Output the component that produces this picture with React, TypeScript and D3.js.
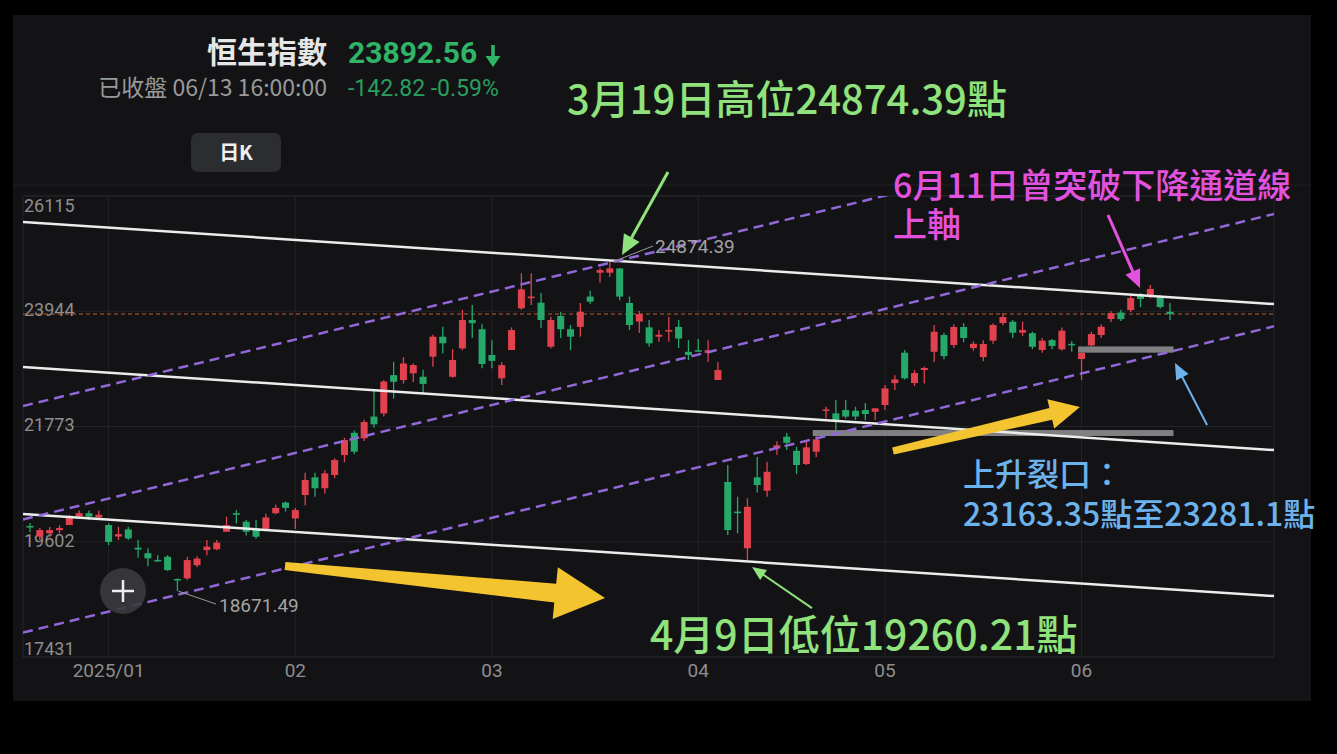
import * as d3 from "d3";

// daily candles, 2024/12/18 - 2025/06/13
const dates = [
  "12/18", "12/19", "12/20", "12/23", "12/24", "12/27", "12/30", "12/31",
  "01/02", "01/03", "01/06", "01/07", "01/08", "01/09", "01/10", "01/13", "01/14", "01/15", "01/16", "01/17",
  "01/20", "01/21", "01/22", "01/23", "01/24", "01/27", "01/28",
  "02/03", "02/04", "02/05", "02/06", "02/07", "02/10", "02/11", "02/12", "02/13", "02/14",
  "02/17", "02/18", "02/19", "02/20", "02/21", "02/24", "02/25", "02/26", "02/27", "02/28",
  "03/03", "03/04", "03/05", "03/06", "03/07", "03/10", "03/11", "03/12", "03/13", "03/14",
  "03/17", "03/18", "03/19", "03/20", "03/21", "03/24", "03/25", "03/26", "03/27", "03/28", "03/31",
  "04/01", "04/02", "04/03", "04/07", "04/08", "04/09", "04/10", "04/11", "04/14", "04/15", "04/16", "04/17",
  "04/22", "04/23", "04/24", "04/25", "04/28", "04/29", "04/30",
  "05/02", "05/06", "05/07", "05/08", "05/09", "05/12", "05/13", "05/14", "05/15", "05/16",
  "05/19", "05/20", "05/21", "05/22", "05/23", "05/26", "05/27", "05/28", "05/29", "05/30",
  "06/02", "06/03", "06/04", "06/05", "06/06", "06/09", "06/10", "06/11", "06/12", "06/13",
];

const opens = [
  19900, 19700, 19760, 19820, 19917, 20080, 20140, 20060,
  19917, 19700, 19835, 19490, 19385, 19260, 19320, 18900, 18912, 19160, 19445, 19460,
  19790, 20140, 19980, 19855, 19822, 20140, 20340,
  20040, 20482, 20815, 20610, 20860, 21235, 21655, 21550, 21960, 22020,
  22740, 22648, 22775, 22710, 23088, 23465, 22710, 23245, 23779, 23605,
  23120, 22680, 23214, 23999, 24190, 24105, 23275, 23855, 23605, 23650,
  24220, 24670, 24670, 24750, 24100, 23750, 23640, 23465, 23575, 23650, 23180,
  23210, 23160, 22648, 20728, 20170, 19480, 20815, 20563, 21360, 21580, 21315, 21066,
  21298, 22070, 22020, 22083, 22070, 22083, 22050,
  22177, 22590, 23163, 22592, 22837, 23181, 23496, 23308, 23647, 23250,
  23082, 23389, 23722, 23747, 23540, 23530, 23214, 23400, 23227, 23330,
  23044, 23300, 23496, 23798, 23920, 23967, 24268, 24212, 24231, 23935,
];

const highs = [
  19955, 19860, 19880, 19915, 20105, 20190, 20190, 20190,
  19950, 19885, 19885, 19640, 19480, 19350, 19350, 18910, 19320, 19330, 19634, 19634,
  20073, 20199, 20010, 20010, 20130, 20300, 20360,
  20240, 20900, 20900, 20950, 21170, 21560, 21700, 21900, 22450, 22650,
  22990, 23080, 22960, 22840, 23500, 23650, 23230, 23970, 24060, 23700,
  23400, 22990, 23640, 24660, 24660, 24290, 23840, 23930, 23685, 24100,
  24330, 24760, 24874.39, 24760, 24220, 23950, 23780, 23590, 23840, 23780, 23400,
  23420, 23400, 22990, 21050, 20450, 20420, 21200, 21110, 21490, 21650, 21390, 21518,
  21594, 22145, 22270, 22270, 22145, 22215, 22115,
  22555, 22740, 23214, 22837, 22900, 23685, 23540, 23700, 23720, 23380,
  23400, 23720, 23910, 23780, 23750, 23560, 23440, 23420, 23640, 23380,
  23163.35, 23560, 23700, 23950, 23970, 24230, 24290, 24440, 24250, 24100,
];

const lows = [
  19780, 19634, 19690, 19760, 19917, 20050, 20010, 20030,
  19540, 19634, 19634, 19300, 19140, 19225, 19050, 18671.49, 18880, 19120, 19350, 19440,
  19790, 19950, 19720, 19660, 19822, 20120, 20170,
  19840, 20290, 20450, 20510, 20800, 21100, 21250, 21500, 21750, 21960,
  22300, 22580, 22610, 22390, 22900, 23150, 22690, 23210, 23440, 22870,
  22870, 22555, 23214, 23970, 24060, 23630, 23240, 23440, 23214, 23465,
  24080, 24480, 24590, 24150, 23590, 23535, 23280, 23370, 23370, 23250, 23025,
  23180, 22990, 22648, 19728, 19760, 19260.21, 20530, 20450, 21240, 21330, 20875, 21047,
  21200, 21925, 21707, 21925, 21895, 21895, 21895,
  22083, 22460, 22660, 22535, 22585, 22990, 23040, 23250, 23360, 23200,
  23000, 23330, 23680, 23440, 23480, 23230, 23160, 23230, 23200, 23180,
  22650, 23281.1, 23440, 23740, 23760, 23930, 24020, 24190, 23990, 23780,
];

const closes = [
  19870, 19822, 19822, 19860, 20073, 20140, 20075, 20110,
  19600, 19745, 19665, 19455, 19290, 19240, 19069, 18880, 19257, 19285, 19510, 19585,
  19917, 20110, 19790, 19696, 20060, 20240, 20240,
  20199, 20765, 20610, 20890, 21141, 21518, 21298, 21857, 21814, 22620,
  22615, 22960, 22930, 22575, 23465, 23340, 23025, 23779, 23720, 22950,
  23010, 22930, 23590, 24356, 24220, 23779, 23779, 23605, 23465, 23935,
  24125, 24720, 24750, 24220, 23685, 23890, 23340, 23500, 23590, 23430, 23120,
  23195, 23210, 22837, 19822, 20140, 20260, 20670, 20920, 21420, 21465, 21047, 21380,
  21530, 22095, 21895, 21960, 21960, 22008, 22115,
  22490, 22660, 22680, 22780, 22875, 23558, 23100, 23647, 23440, 23330,
  23327, 23685, 23835, 23540, 23590, 23275, 23390, 23290, 23578, 23310,
  23157, 23515, 23653, 23910, 23795, 24193, 24175, 24363, 24024, 23892.56,
];

const yTicks = [26115, 23944, 21773, 19602, 17431];
const monthStarts = ["01/02", "02/03", "03/03", "04/01", "05/02", "06/02"];
const monthLabels = ["2025/01", "02", "03", "04", "05", "06"];

// channel lines: value at left edge and right edge of the chart
const channelSpan = [-0.71, 126.58];
const whiteLines = [
  [25625, 24080],
  [22893, 21330],
  [20124, 18579],
];
const purpleLines = [
  [22159, 27909],
  [20022, 25776],
  [17891, 23660],
];

// gaps (from candle, to candle, low, high)
const gaps = [
  { from: "04/22", to: "06/13", low: 21594, high: 21706 },
  { from: "06/02", to: "06/13", low: 23163.35, high: 23281.1 },
];

// annotation arrows, in (candle index, value)
const yellowArrows = [
  { i0: 25.95, v0: 19144, i1: 58.51, v1: 18541, w0: 8, w1: 19, hl: 50, hh: 26 },
  { i0: 87.81, v0: 21311, i1: 106.84, v1: 22140, w0: 7, w1: 12, hl: 30, hh: 15 },
];
const thinArrows = [
  { i0: 64.92, v0: 26567, i1: 60.24, v1: 25003, color: "#8fe27c", w: 3, hl: 20, hh: 9 },
  { i0: 109.69, v0: 25757, i1: 112.95, v1: 24382, color: "#e352df", w: 3, hl: 18, hh: 8 },
  { i0: 119.77, v0: 21801, i1: 116.51, v1: 22969, color: "#6cb2ec", w: 2, hl: 16, hh: 7 },
  { i0: 79.57, v0: 18353, i1: 73.47, v1: 19125, color: "#8fe27c", w: 2, hl: 14, hh: 6 },
];

const UP = "#e2414e";
const DOWN = "#25a86a";
const GREEN_TXT = "#8fe27c";
const HDR_GREEN = "#2fb468";
const CJK = "'Noto Sans CJK TC', 'Noto Sans', sans-serif";
const NUM = "Roboto, 'Noto Sans', sans-serif";

const plot = { left: 23, right: 1274, top: 196, bottom: 657 };

function thickArrow(p0: number[], p1: number[], w0: number, w1: number, hl: number, hh: number) {
  const dx = p1[0] - p0[0], dy = p1[1] - p0[1];
  const L = Math.hypot(dx, dy);
  const ux = dx / L, uy = dy / L, nx = -uy, ny = ux;
  const bx = p1[0] - ux * hl, by = p1[1] - uy * hl;
  const pts = [
    [p0[0] + (nx * w0) / 2, p0[1] + (ny * w0) / 2],
    [bx + (nx * w1) / 2, by + (ny * w1) / 2],
    [bx + nx * hh, by + ny * hh],
    [p1[0], p1[1]],
    [bx - nx * hh, by - ny * hh],
    [bx - (nx * w1) / 2, by - (ny * w1) / 2],
    [p0[0] - (nx * w0) / 2, p0[1] - (ny * w0) / 2],
  ];
  return pts.map((p) => p.join(",")).join(" ");
}

export default function App() {
  const n = dates.length;
  const x = d3.scaleLinear().domain([0, n - 1]).range([30, 1170]);
  const y = d3.scaleLinear().domain([yTicks[yTicks.length - 1], yTicks[0]]).range([plot.bottom, plot.top]);
  const cw = 7;

  const hiIdx = d3.maxIndex(highs);
  const loIdx = d3.minIndex(lows);
  const last = closes[n - 1];

  return (
    <svg width={1337} height={754} style={{ position: "absolute", left: 0, top: 0, display: "block" }}>
      <defs>
        <clipPath id="plotClip">
          <rect x={plot.left} y={plot.top} width={plot.right - plot.left} height={plot.bottom - plot.top} />
        </clipPath>
      </defs>
      <rect width={1337} height={754} fill="#000" />
      <rect x={13} y={15} width={1298} height={686} fill="#131316" />

      {/* header */}
      <text x={327} y={63} textAnchor="end" fontFamily={CJK} fontWeight={700} fontSize={30} fill="#e6e6e6">恒生指數</text>
      <text x={348} y={63} fontFamily={NUM} fontWeight={700} fontSize={30} fill={HDR_GREEN}>23892.56</text>
      <line x1={493} y1={45} x2={493} y2={59} stroke={HDR_GREEN} strokeWidth={3.5} />
      <polygon points="485.5,56 500.5,56 493,67" fill={HDR_GREEN} />
      <text x={327} y={96} textAnchor="end" fontFamily={CJK} fontSize={23} fill="#9a9a9a">已收盤 06/13 16:00:00</text>
      <text x={348} y={96} fontFamily={NUM} fontSize={23} fill="#2a9e5e">-142.82 -0.59%</text>
      <rect x={191} y={133} width={90} height={39} rx={7} fill="#2c2d31" />
      <text x={236} y={160} textAnchor="middle" fontFamily={CJK} fontWeight={700} fontSize={20} fill="#f0f0f0">日K</text>

      {/* frame & grid */}
      <line x1={13} x2={1311} y1={185} y2={185} stroke="#202124" strokeWidth={1} />
      <rect x={plot.left} y={plot.top} width={plot.right - plot.left} height={plot.bottom - plot.top} fill="none" stroke="#25262a" />
      {yTicks.map((t) => (
        <line key={t} x1={plot.left} x2={plot.right} y1={y(t)} y2={y(t)} stroke="#222327" />
      ))}
      {monthStarts.map((d) => (
        <line key={d} x1={x(dates.indexOf(d))} x2={x(dates.indexOf(d))} y1={plot.top} y2={plot.bottom} stroke="#222327" />
      ))}
      {yTicks.map((t) => (
        <text key={t} x={24} y={Math.min(Math.max(y(t), 207), 650)} dominantBaseline="middle" fontFamily={NUM} fontSize={18} fill="#8e8e8e">
          {t}
        </text>
      ))}
      {monthStarts.map((d, k) => (
        <text key={d} x={x(dates.indexOf(d))} y={677} textAnchor="middle" fontFamily={NUM} fontSize={19} fill="#8e8e8e">
          {monthLabels[k]}
        </text>
      ))}

      {/* last close line */}
      <line x1={plot.left} x2={plot.right} y1={y(last)} y2={y(last)} stroke="#b8662c" strokeWidth={1.2} strokeDasharray="4 3" />

      {/* candles */}
      {dates.map((d, i) => {
        const up = closes[i] >= opens[i];
        const c = up ? UP : DOWN;
        const top = y(Math.max(opens[i], closes[i]));
        const bot = y(Math.min(opens[i], closes[i]));
        return (
          <g key={d}>
            <line x1={x(i)} x2={x(i)} y1={y(highs[i])} y2={y(lows[i])} stroke={c} strokeWidth={1.3} />
            <rect x={x(i) - cw / 2} y={top} width={cw} height={Math.max(bot - top, 1.5)} fill={c} />
          </g>
        );
      })}

      {/* gap bars */}
      {gaps.map((g) => (
        <rect
          key={g.from}
          x={x(dates.indexOf(g.from)) - cw / 2}
          y={y(g.high)}
          width={x(dates.indexOf(g.to)) - x(dates.indexOf(g.from)) + cw}
          height={y(g.low) - y(g.high)}
          fill="#808082"
        />
      ))}

      {/* channels */}
      <g clipPath="url(#plotClip)">
        {whiteLines.map((l, k) => (
          <line key={k} x1={x(channelSpan[0])} y1={y(l[0])} x2={x(channelSpan[1])} y2={y(l[1])} stroke="#ececec" strokeWidth={2.5} />
        ))}
        {purpleLines.map((l, k) => (
          <line key={k} x1={x(channelSpan[0])} y1={y(l[0])} x2={x(channelSpan[1])} y2={y(l[1])} stroke="#9268d8" strokeWidth={2.5} strokeDasharray="10 6" />
        ))}
      </g>

      {/* max / min labels */}
      <line x1={x(hiIdx) + 3} y1={y(highs[hiIdx])} x2={653} y2={246} stroke="#9a9a9a" strokeWidth={1} />
      <text x={655} y={248} dominantBaseline="middle" fontFamily={NUM} fontSize={19} fill="#a3a3a3">{highs[hiIdx]}</text>
      <line x1={x(loIdx) + 1} y1={y(lows[loIdx])} x2={216} y2={604} stroke="#9a9a9a" strokeWidth={1} />
      <text x={219} y={607} dominantBaseline="middle" fontFamily={NUM} fontSize={19} fill="#a3a3a3">{lows[loIdx]}</text>

      {/* yellow arrows */}
      {yellowArrows.map((a, k) => (
        <polygon key={k} points={thickArrow([x(a.i0), y(a.v0)], [x(a.i1), y(a.v1)], a.w0, a.w1, a.hl, a.hh)} fill="#f4c430" />
      ))}

      {/* thin arrows */}
      {thinArrows.map((a, k) => {
        const p0 = [x(a.i0), y(a.v0)];
        const p1 = [x(a.i1), y(a.v1)];
        const L = Math.hypot(p1[0] - p0[0], p1[1] - p0[1]);
        const ux = (p1[0] - p0[0]) / L, uy = (p1[1] - p0[1]) / L;
        const bx = p1[0] - ux * a.hl, by = p1[1] - uy * a.hl;
        return (
          <g key={k}>
            <line x1={p0[0]} y1={p0[1]} x2={bx + ux * 2} y2={by + uy * 2} stroke={a.color} strokeWidth={a.w} />
            <polygon
              points={`${p1[0]},${p1[1]} ${bx - uy * a.hh},${by + ux * a.hh} ${bx + uy * a.hh},${by - ux * a.hh}`}
              fill={a.color}
            />
          </g>
        );
      })}

      {/* + button */}
      <circle cx={123} cy={591} r={23} fill="#3a3a3e" opacity={0.9} />
      <line x1={112} x2={134} y1={591} y2={591} stroke="#eee" strokeWidth={2.5} />
      <line x1={123} x2={123} y1={580} y2={602} stroke="#eee" strokeWidth={2.5} />

      {/* annotation texts */}
      <text x={567} y={114} fontFamily={CJK} fontWeight={500} fontSize={40} fill={GREEN_TXT}>3月19日高位24874.39點</text>
      <text x={893} y={198} fontFamily={CJK} fontWeight={500} fontSize={34} fill="#e352df">6月11日曾突破下降通道線</text>
      <text x={893} y={237} fontFamily={CJK} fontWeight={500} fontSize={34} fill="#e352df">上軸</text>
      <text x={963} y={486} fontFamily={CJK} fontWeight={500} fontSize={32} fill="#6cb2ec">上升裂口：</text>
      <text x={963} y={526} fontFamily={CJK} fontWeight={500} fontSize={32} fill="#6cb2ec">23163.35點至23281.1點</text>
      <text x={650} y={650} fontFamily={CJK} fontWeight={500} fontSize={41} fill={GREEN_TXT}>4月9日低位19260.21點</text>
    </svg>
  );
}
